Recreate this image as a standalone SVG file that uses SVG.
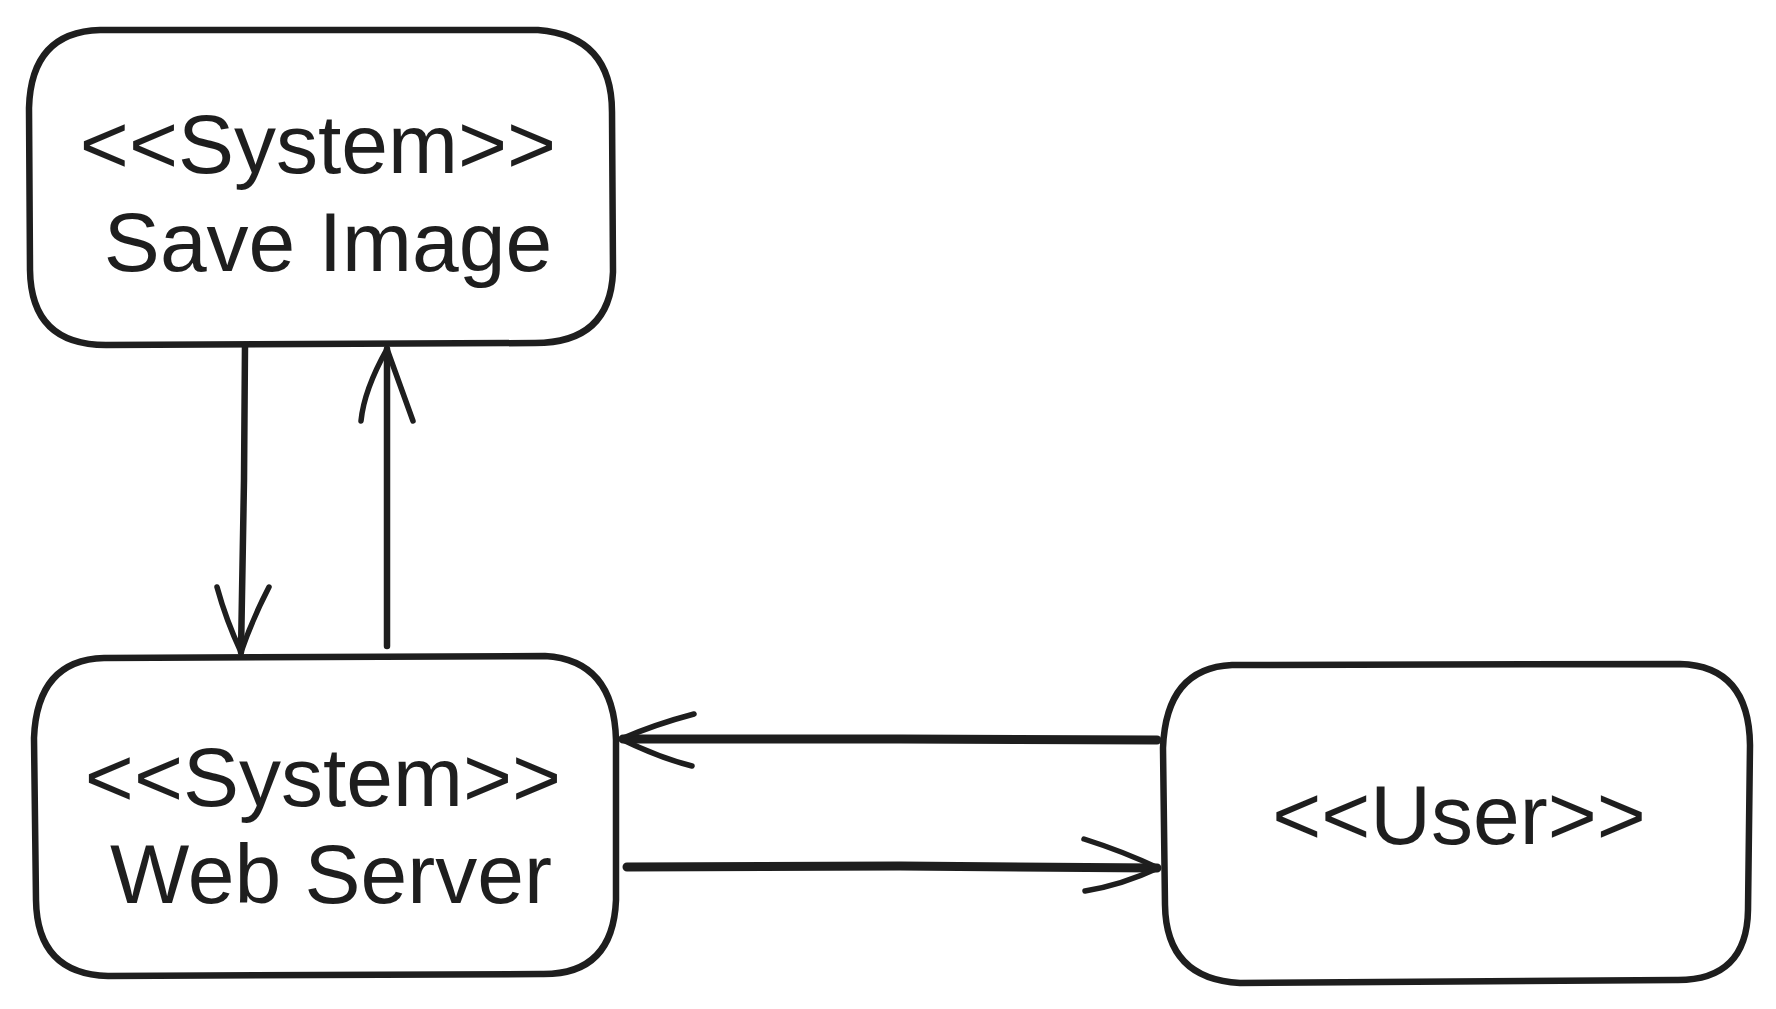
<svg xmlns="http://www.w3.org/2000/svg" width="1776" height="1009" viewBox="0 0 1776 1009">
<style>
.box{fill:#ffffff;stroke:#1e1e1e;stroke-width:6.5;stroke-linecap:round;stroke-linejoin:round}
.ln{fill:none;stroke:#1e1e1e;stroke-width:6.5;stroke-linecap:round;stroke-linejoin:round}
.thick{stroke-width:9}
.head{fill:none;stroke:#1e1e1e;stroke-width:5.5;stroke-linecap:round;stroke-linejoin:round}
.lbl{font-family:"Liberation Sans",Arial,Helvetica,sans-serif;font-size:84px;fill:#1e1e1e;text-anchor:middle}
</style>
<rect width="1776" height="1009" fill="#ffffff"/>
<g id="node-save-image">
<path class="box" d="M100 30 L538 30 Q612 36 612 112 L613 272 Q610 343 535 343 L106 345 Q31 345 30 270 L29 108 Q31 32 100 30 Z"/>
<text class="lbl" x="318" y="173">&lt;&lt;System&gt;&gt;</text>
<text class="lbl" x="328" y="271">Save Image</text>
</g>
<g id="node-web-server">
<path class="box" d="M104 658 L545 656 Q614 660 616 740 L616 900 Q613 976 540 974 L108 976 Q37 974 36 900 L34 738 Q37 660 104 658 Z"/>
<text class="lbl" x="323" y="806">&lt;&lt;System&gt;&gt;</text>
<text class="lbl" x="331" y="903">Web Server</text>
</g>
<g id="node-user">
<path class="box" d="M1232 665 L1680 664 Q1749 666 1750 745 L1748 910 Q1747 981 1676 980 L1240 983 Q1166 979 1165 905 L1163 748 Q1166 668 1232 665 Z"/>
<text class="lbl" x="1459" y="844">&lt;&lt;User&gt;&gt;</text>
</g>
<g id="connectors">
<path class="ln" d="M245 345 L244 480 L241 652"/>
<path class="head" d="M217 587 Q226 620 241 652 Q252 620 269 587"/>
<path class="ln" d="M387 646 L387 500 L387 349"/>
<path class="head" d="M361 421 Q364 390 387 349 Q400 385 413 421"/>
<path class="ln thick" d="M1157 740 L900 739 L623 739"/>
<path class="head" d="M694 714 Q656 724 621 739 Q660 758 692 766"/>
<path class="ln thick" d="M627 867 L900 866 L1157 868"/>
<path class="head" d="M1084 839 Q1125 852 1158 868 Q1122 885 1085 891"/>
</g>
</svg>
